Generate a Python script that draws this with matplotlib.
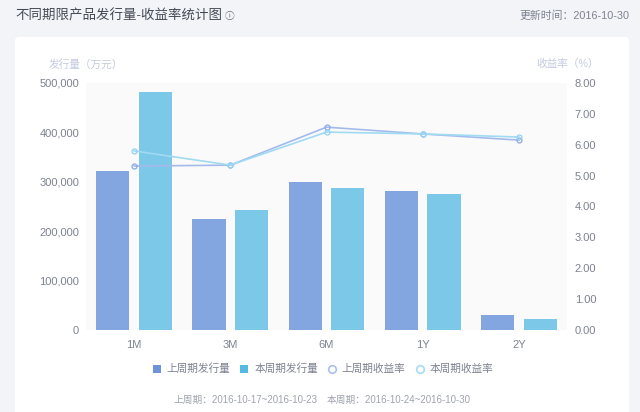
import matplotlib
matplotlib.use('Agg')
import matplotlib.pyplot as plt
from matplotlib.lines import Line2D
from matplotlib.patches import FancyBboxPatch, Patch
import numpy as np

plt.rcParams['font.family'] = ['Liberation Sans', 'Noto Sans CJK SC', 'DejaVu Sans']

terms = ['1M', '3M', '6M', '1Y', '2Y']
prev_volume = [322000, 225000, 300000, 282000, 31000]
curr_volume = [482000, 243000, 288000, 276000, 23000]
prev_rate = [5.31, 5.34, 6.57, 6.35, 6.15]
curr_rate = [5.80, 5.34, 6.41, 6.35, 6.25]
volume_ticks = [0, 100000, 200000, 300000, 400000, 500000]
rate_ticks = [0, 1, 2, 3, 4, 5, 6, 7, 8]

W, H = 640, 412
fig = plt.figure(figsize=(W / 100, H / 100), dpi=100, facecolor='#f2f4f8')

# white card behind the chart
bg = fig.add_axes([0, 0, 1, 1])
bg.set_xlim(0, W)
bg.set_ylim(H, 0)
bg.axis('off')
bg.add_patch(FancyBboxPatch((15, 37), 614, 390, boxstyle='round,pad=0,rounding_size=4',
                            fc='white', ec='none'))

ax = fig.add_axes([86 / W, 1 - 330 / H, 481 / W, 247 / H], facecolor='#fafafa')
x = np.arange(len(terms))
bar_w = 0.345
ax.bar(x - 0.222, prev_volume, bar_w, color='#84a6e0', zorder=2)
ax.bar(x + 0.222, curr_volume, bar_w, color='#7bc8e8', zorder=2)
ax.set_xlim(-0.5, 4.5)
ax.set_ylim(0, 500000)
ax.set_xticks(x, terms)
ax.set_yticks(volume_ticks, [f'{v:,}' for v in volume_ticks])
ax.tick_params(length=0, labelsize=8, labelcolor='#7d8290')
ax.tick_params(axis='x', pad=7)
ax.tick_params(axis='y', pad=5)
for s in ax.spines.values():
    s.set_visible(False)

ax2 = ax.twinx()
ax2.plot(x, prev_rate, color='#a3bbec', lw=1.2, marker='o', ms=3.6, mfc='none', mec='#8ea9e4', mew=0.9, zorder=3)
ax2.plot(x, curr_rate, color='#a0daf3', lw=1.2, marker='o', ms=3.6, mfc='none', mec='#93d3f2', mew=0.9, zorder=4)
ax2.set_ylim(0, 8)
ax2.set_yticks(rate_ticks, [f'{v:.2f}' for v in rate_ticks])
ax2.tick_params(length=0, labelsize=8, labelcolor='#7d8290', pad=5.5)
for s in ax2.spines.values():
    s.set_visible(False)

fig.text(15 / W, 1 - 16 / H, '不同期限产品发行量-收益率统计图', fontsize=9.7, color='#444a55', va='center')
fig.text(230 / W, 1 - 16 / H, 'ⓘ', fontsize=7, color='#666b76', va='center', ha='center',
         family=['Noto Sans CJK SC', 'DejaVu Sans'])
fig.text(629 / W, 1 - 16 / H, '更新时间：2016-10-30', fontsize=7.8, color='#7d8290', va='center', ha='right')
fig.text(49 / W, 1 - 64 / H, '发行量（万元）', fontsize=7.7, color='#c3cbe0', va='center')
fig.text(536 / W, 1 - 64 / H, '收益率（%）', fontsize=7.7, color='#c3cbe0', va='center')
fig.text(174 / W, 1 - 400 / H, '上周期：2016-10-17~2016-10-23', fontsize=7, color='#a0a4ae', va='center')
fig.text(327 / W, 1 - 400 / H, '本周期：2016-10-24~2016-10-30', fontsize=7, color='#a0a4ae', va='center')

handles = [
    Patch(fc='#6f92d8', ec='none', label='上周期发行量'),
    Patch(fc='#55b9e2', ec='none', label='本周期发行量'),
    Line2D([], [], ls='none', marker='o', ms=5.5, mfc='none', mec='#a9c0ee', mew=1.2, label='上周期收益率'),
    Line2D([], [], ls='none', marker='o', ms=5.5, mfc='none', mec='#a5dcf4', mew=1.2, label='本周期收益率'),
]
fig.legend(handles=handles, loc='center', bbox_to_anchor=(323 / W, 1 - 369 / H), ncol=4, frameon=False,
           fontsize=7.7, labelcolor='#7d8290', handlelength=0.75, handleheight=0.75, handletextpad=0.55,
           columnspacing=0.93)

fig.savefig('out.png', dpi=100, facecolor=fig.get_facecolor())
